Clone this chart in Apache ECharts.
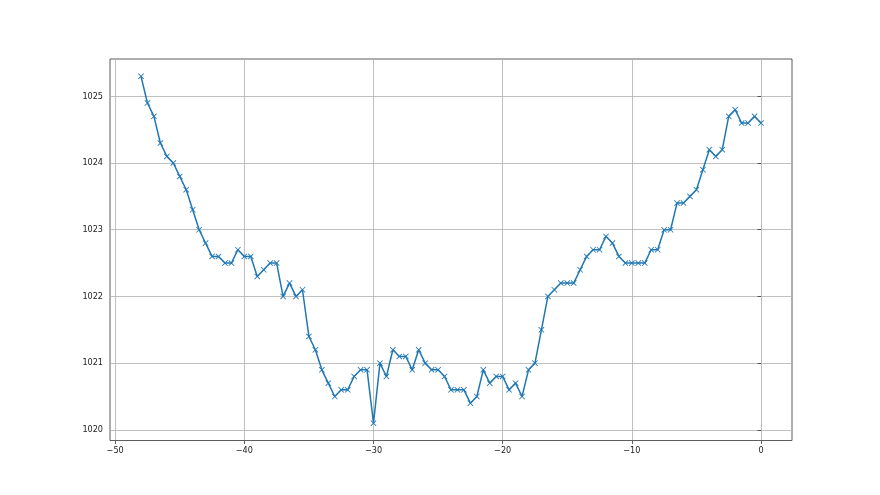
<!DOCTYPE html>
<html>
<head>
<meta charset="utf-8">
<script src="https://cdn.jsdelivr.net/npm/echarts@6/dist/echarts.min.js"></script>
<style>
html,body{margin:0;padding:0;background:#fff;}
#chart{width:880px;height:495px;}
</style>
</head>
<body>
<div id="chart"></div>
<script>
const xValues = [-48,-47.5,-47,-46.5,-46,-45.5,-45,-44.5,-44,-43.5,-43,-42.5,-42,-41.5,-41,-40.5,-40,-39.5,-39,-38.5,-38,-37.5,-37,-36.5,-36,-35.5,-35,-34.5,-34,-33.5,-33,-32.5,-32,-31.5,-31,-30.5,-30,-29.5,-29,-28.5,-28,-27.5,-27,-26.5,-26,-25.5,-25,-24.5,-24,-23.5,-23,-22.5,-22,-21.5,-21,-20.5,-20,-19.5,-19,-18.5,-18,-17.5,-17,-16.5,-16,-15.5,-15,-14.5,-14,-13.5,-13,-12.5,-12,-11.5,-11,-10.5,-10,-9.5,-9,-8.5,-8,-7.5,-7,-6.5,-6,-5.5,-5,-4.5,-4,-3.5,-3,-2.5,-2,-1.5,-1,-0.5,0];
const pressure = [1025.3,1024.9,1024.7,1024.3,1024.1,1024.0,1023.8,1023.6,1023.3,1023.0,1022.8,1022.6,1022.6,1022.5,1022.5,1022.7,1022.6,1022.6,1022.3,1022.4,1022.5,1022.5,1022.0,1022.2,1022.0,1022.1,1021.4,1021.2,1020.9,1020.7,1020.5,1020.6,1020.6,1020.8,1020.9,1020.9,1020.1,1021.0,1020.8,1021.2,1021.1,1021.1,1020.9,1021.2,1021.0,1020.9,1020.9,1020.8,1020.6,1020.6,1020.6,1020.4,1020.5,1020.9,1020.7,1020.8,1020.8,1020.6,1020.7,1020.5,1020.9,1021.0,1021.5,1022.0,1022.1,1022.2,1022.2,1022.2,1022.4,1022.6,1022.7,1022.7,1022.9,1022.8,1022.6,1022.5,1022.5,1022.5,1022.5,1022.7,1022.7,1023.0,1023.0,1023.4,1023.4,1023.5,1023.6,1023.9,1024.2,1024.1,1024.2,1024.7,1024.8,1024.6,1024.6,1024.7,1024.6];
const xTicks = [-50,-40,-30,-20,-10,0];
const yTicks = [1020,1021,1022,1023,1024,1025];

const fmtX = v => (v < 0 ? '\u2212' + Math.abs(v) : String(v));
const fmtY = v => String(v);
const labelStyle = {color:'#222', fontFamily:'"DejaVu Sans Condensed", "Liberation Sans", sans-serif', fontSize:9};
const chart = echarts.init(document.getElementById('chart'), null, {renderer:'canvas'});
chart.setOption({
  animation:false,
  backgroundColor:'#fff',
  grid:{left:110, right:88, top:59, bottom:54.5, show:true, borderColor:'#333', borderWidth:0.8, containLabel:false},
  xAxis:{
    type:'value', min:-50.4, max:2.4,
    axisLine:{show:false},
    axisTick:{show:true, length:3.5, lineStyle:{color:'#333', width:0.8}, customValues:xTicks},
    axisLabel:Object.assign({margin:6, formatter:fmtX, customValues:xTicks}, labelStyle),
    splitLine:{show:true, lineStyle:{color:'#b0b0b0', width:0.8}, customValues:xTicks}
  },
  yAxis:{
    type:'value', min:1019.84, max:1025.56,
    axisLine:{show:false},
    axisTick:{show:true, length:3.5, lineStyle:{color:'#333', width:0.8}, customValues:yTicks},
    axisLabel:Object.assign({margin:7, formatter:fmtY, customValues:yTicks}, labelStyle),
    splitLine:{show:true, lineStyle:{color:'#b0b0b0', width:0.8}, customValues:yTicks}
  },
  series:[{
    type:'line',
    data:xValues.map((x,i)=>[x, pressure[i]]),
    lineStyle:{color:'#1f77b4', width:1.5},
    symbol:'path://M0,1L1,0L5,4L9,0L10,1L6,5L10,9L9,10L5,6L1,10L0,9L4,5Z',
    symbolSize:6,
    showAllSymbol:true,
    itemStyle:{color:'#1f77b4'}
  }]
});
</script>
</body>
</html>
